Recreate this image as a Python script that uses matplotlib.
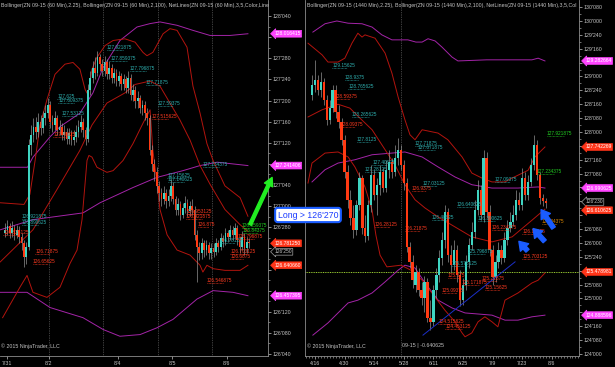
import matplotlib
matplotlib.use("Agg")
import matplotlib.pyplot as plt
from matplotlib.transforms import blended_transform_factory

plt.rcParams["font.family"] = ["Liberation Sans", "DejaVu Sans"]

UP = "#3fd4c2"
DOWN = "#ff3a12"
WICK = "#a0a0a0"
BAND_RED = "#b3140e"
BAND_PURPLE = "#a424a8"
GRID = "#7a7a7a"
TEXT = "#c4c4c4"
TEAL_TXT = "#2fb0b0"
RED_TXT = "#ff3a20"
GREEN_TXT = "#22d022"
ORANGE_TXT = "#e08a00"

# ---------------- left panel: ZN 09-15, 60 min ----------------
left_open = [126.84, 126.86, 126.88, 126.84, 126.87, 126.83, 126.86, 126.82, 126.78, 126.70,
             126.76, 127.36, 127.42, 127.47, 127.44, 127.50, 127.46, 127.52, 127.55, 127.60,
             127.50, 127.48, 127.52, 127.45, 127.47, 127.42, 127.44, 127.40, 127.43, 127.39,
             127.41, 127.44, 127.47, 127.50, 127.45, 127.40, 127.69, 127.76, 127.82, 127.79,
             127.88, 127.84, 127.80, 127.85, 127.78, 127.82, 127.76, 127.79, 127.74, 127.77,
             127.72, 127.75, 127.70, 127.76, 127.66, 127.69, 127.62, 127.64, 127.58, 127.60,
             127.55, 127.52, 127.33, 127.25, 127.20, 127.12, 127.08, 127.04, 127.08, 127.03,
             127.06, 127.12, 127.04, 126.98, 127.01, 126.95, 126.99, 127.02, 126.97, 127.00,
             126.98, 126.83, 126.76, 126.72, 126.78, 126.74, 126.77, 126.72, 126.75, 126.73,
             126.78, 126.76, 126.81, 126.79, 126.84, 126.82, 126.86, 126.83, 126.87, 126.80,
             126.76, 126.82, 126.75, 126.79]
left_close = [126.86, 126.88, 126.84, 126.87, 126.83, 126.86, 126.82, 126.78, 126.70, 126.76,
              127.36, 127.42, 127.47, 127.44, 127.50, 127.46, 127.52, 127.55, 127.60, 127.50,
              127.48, 127.52, 127.45, 127.47, 127.42, 127.44, 127.40, 127.43, 127.39, 127.41,
              127.44, 127.47, 127.50, 127.45, 127.40, 127.69, 127.76, 127.82, 127.79, 127.88,
              127.84, 127.80, 127.85, 127.78, 127.82, 127.76, 127.79, 127.74, 127.77, 127.72,
              127.75, 127.70, 127.76, 127.66, 127.69, 127.62, 127.64, 127.58, 127.60, 127.55,
              127.52, 127.33, 127.25, 127.20, 127.12, 127.08, 127.04, 127.08, 127.03, 127.06,
              127.12, 127.04, 126.98, 127.01, 126.95, 126.99, 127.02, 126.97, 127.00, 126.98,
              126.83, 126.76, 126.72, 126.78, 126.74, 126.77, 126.72, 126.75, 126.73, 126.78,
              126.76, 126.81, 126.79, 126.84, 126.82, 126.86, 126.83, 126.87, 126.80, 126.76,
              126.82, 126.75, 126.79, 126.78]
left_high = [126.90, 126.92, 126.90, 126.91, 126.89, 126.89, 126.88, 126.84, 126.80, 126.79,
             127.40, 127.48, 127.52, 127.53, 127.55, 127.54, 127.56, 127.60, 127.64, 127.62,
             127.54, 127.56, 127.54, 127.51, 127.49, 127.48, 127.46, 127.46, 127.45, 127.45,
             127.48, 127.51, 127.54, 127.52, 127.47, 127.72, 127.80, 127.86, 127.88, 127.92,
             127.90, 127.87, 127.89, 127.87, 127.86, 127.84, 127.82, 127.81, 127.80, 127.79,
             127.78, 127.77, 127.80, 127.78, 127.72, 127.71, 127.68, 127.66, 127.63, 127.62,
             127.58, 127.54, 127.36, 127.28, 127.23, 127.15, 127.11, 127.12, 127.10, 127.10,
             127.16, 127.14, 127.06, 127.05, 127.03, 127.02, 127.06, 127.04, 127.03, 127.04,
             127.00, 126.86, 126.79, 126.81, 126.80, 126.80, 126.79, 126.78, 126.78, 126.81,
             126.80, 126.84, 126.83, 126.87, 126.86, 126.89, 126.88, 126.90, 126.89, 126.82,
             126.85, 126.84, 126.82, 126.81]
left_low = [126.82, 126.83, 126.81, 126.82, 126.80, 126.81, 126.78, 126.74, 126.64, 126.66,
            126.74, 127.30, 127.38, 127.40, 127.41, 127.42, 127.43, 127.48, 127.52, 127.46,
            127.44, 127.45, 127.42, 127.42, 127.39, 127.39, 127.37, 127.37, 127.36, 127.36,
            127.38, 127.41, 127.44, 127.41, 127.36, 127.38, 127.66, 127.73, 127.75, 127.77,
            127.80, 127.77, 127.77, 127.75, 127.75, 127.73, 127.73, 127.71, 127.71, 127.69,
            127.69, 127.67, 127.67, 127.63, 127.62, 127.58, 127.58, 127.55, 127.54, 127.51,
            127.48, 127.30, 127.21, 127.15, 127.08, 127.03, 127.00, 127.01, 126.99, 127.00,
            127.03, 127.01, 126.95, 126.95, 126.92, 126.93, 126.96, 126.94, 126.94, 126.95,
            126.80, 126.55, 126.68, 126.69, 126.70, 126.71, 126.69, 126.69, 126.70, 126.71,
            126.73, 126.74, 126.76, 126.77, 126.79, 126.80, 126.80, 126.81, 126.77, 126.72,
            126.74, 126.71, 126.72, 126.75]

left_r1_x = [-2, 8, 10.5, 12.7, 14.8, 17.7, 21.1, 25.3, 28.7, 31.6, 33.8, 35, 36.7, 38.8, 42.2, 45.6,
             50.6, 54.9, 58.2, 59.9, 62.4, 66.7, 69.6, 72.6, 76.8, 79.3, 82.3, 85.2, 87.8, 92.8, 99.2, 102.5]
left_r1_y = [127.02, 127.01, 127.07, 127.27, 127.48, 127.63, 127.78, 127.84, 127.85, 127.81, 127.69,
             127.66, 127.81, 127.88, 127.95, 127.98, 127.99, 127.97, 127.91, 127.89, 127.91, 128.02,
             128.05, 128.04, 127.94, 127.71, 127.55, 127.37, 127.27, 127.12, 127.05, 126.94]
left_rm_x = [-2, 11.8, 22, 31.6, 36.7, 43, 50.6, 54.9, 61.2, 65.4, 69.6, 73.8, 78.1, 82.3, 86.5, 92.8, 99.2, 102.5]
left_rm_y = [126.67, 126.86, 127.10, 127.33, 127.48, 127.61, 127.67, 127.72, 127.74, 127.71, 127.61,
             127.51, 127.39, 127.24, 127.13, 126.98, 126.89, 126.85]
left_r2_x = [-1, 6.3, 9.3, 11.8, 17.7, 23.2, 27.4, 30.4, 32.5, 34.6, 35.4, 36.7, 38.8, 43, 45.6, 49.8,
             54, 58.2, 61.2, 62.4, 64.1, 65.4, 68.4, 72.6, 78.1, 82.3, 83.5, 85.2, 87.8, 92.8, 99.2, 102.5]
left_r2_y = [126.34, 126.52, 126.59, 126.49, 126.46, 126.52, 126.66, 126.74, 126.92, 127.27, 127.30,
             127.29, 127.23, 127.20, 127.21, 127.27, 127.37, 127.49, 127.57, 127.33, 127.14, 126.98,
             126.83, 126.74, 126.71, 126.65, 126.61, 126.65, 126.63, 126.62, 126.62, 126.65]
left_p1_x = [-2, 9.5, 11.8, 19, 23.2, 31.6, 37.1, 41.4, 48.5, 55.7, 61.2, 65.4, 72.6, 79.3, 86.5, 95, 102.5]
left_p1_y = [127.23, 127.23, 127.29, 127.41, 127.47, 127.55, 127.67, 127.82, 127.98, 128.06, 128.08,
             128.09, 128.07, 128.04, 128.01, 128.01, 128.02]
left_p2_x = [-2, 11.8, 32.9, 40.1, 54, 64.1, 75.1, 82.3, 89.5, 102.5]
left_p2_y = [126.86, 126.92, 126.96, 127.02, 127.11, 127.17, 127.21, 127.24, 127.26, 127.24]
left_p3_x = [-2, 9.3, 19, 32.9, 41.4, 48.5, 57, 64.1, 70.9, 81, 87.8, 96.2, 102.5]
left_p3_y = [126.49, 126.49, 126.40, 126.34, 126.27, 126.23, 126.24, 126.28, 126.33, 126.45, 126.50,
             126.49, 126.47]

left_ticks = [126.125, 126.25, 126.375, 126.5, 126.625, 126.75, 126.875, 127.0, 127.125,
              127.25, 127.375, 127.5, 127.625, 127.75, 127.875, 128.0, 128.125]
left_dates = ["7/31", "8/2", "8/4", "8/5", "8/6"]
left_date_pos = [1, 18.5, 47.5, 70.5, 93.5]
left_sessions = [18.5, 41.5, 64.5, 87.5]

left_labels = [("127.921875", 43, TEAL_TXT), ("127.859375", 44.5, TEAL_TXT),
               ("127.796875", 52.7, TEAL_TXT), ("127.71875", 59.5, TEAL_TXT),
               ("127.59375", 64.5, TEAL_TXT), ("127.515625", 62, RED_TXT),
               ("127.625", 22, TEAL_TXT), ("127.609375", 22.4, TEAL_TXT),
               ("127.53125", 24, TEAL_TXT), ("127.40625", 20.3, RED_TXT),
               ("126.921875", 7.2, TEAL_TXT), ("126.890625", 7.2, TEAL_TXT),
               ("126.828125", -0.8, RED_TXT), ("126.71875", 12.7, RED_TXT),
               ("126.65625", 11.8, RED_TXT), ("127.234375", 83.5, TEAL_TXT),
               ("127.15625", 68.4, TEAL_TXT), ("127.140625", 68.8, TEAL_TXT),
               ("126.953125", 76.8, RED_TXT), ("126.921875", 76.4, RED_TXT),
               ("126.875", 81.4, RED_TXT), ("126.796875", 98.3, RED_TXT),
               ("126.78125", 90.7, TEAL_TXT), ("126.859375", 100, GREEN_TXT),
               ("126.84375", 100.4, GREEN_TXT), ("126.703125", 95, RED_TXT),
               ("126.6875", 95, RED_TXT), ("126.546875", 85.2, RED_TXT)]

# drawn objects on the 60 min chart
left_arrow_x = [103.4, 112.7]
left_arrow_y = [126.89, 127.17]

# ---------------- right panel: ZN 09-15, daily ----------------
right_open = [128.67, 128.85, 128.94, 128.76, 128.90, 128.58, 128.22, 128.43, 128.76, 128.36,
              128.18, 127.86, 127.28, 126.77, 126.45, 126.23, 126.69, 127.17, 126.27, 126.13,
              126.69, 127.23, 126.87, 127.05, 127.28, 126.99, 127.31, 127.46, 127.28, 127.53,
              127.68, 127.41, 127.08, 125.93, 125.66, 125.24, 125.48, 125.15, 125.01, 125.30,
              124.65, 124.58, 125.15, 125.42, 125.73, 126.05, 126.56, 125.78, 125.60, 125.87,
              125.42, 124.97, 125.24, 125.66, 125.96, 126.20, 126.59, 126.95, 126.50, 127.53,
              126.56, 125.87, 125.39, 125.66, 125.87, 125.73, 126.05, 126.27, 126.38, 126.50,
              126.77, 126.68, 127.17, 126.87, 127.10, 127.41, 127.77, 127.23, 126.81, 126.76]
right_close = [128.85, 128.94, 128.76, 128.90, 128.58, 128.22, 128.43, 128.76, 128.36, 128.18,
               127.86, 127.28, 126.77, 126.45, 126.23, 126.69, 127.17, 126.27, 126.13, 126.69,
               127.23, 126.87, 127.05, 127.28, 126.99, 127.31, 127.46, 127.28, 127.53, 127.68,
               127.41, 127.08, 125.93, 125.66, 125.33, 125.48, 125.15, 125.01, 125.30, 124.65,
               124.58, 125.15, 125.42, 125.73, 126.05, 126.56, 125.78, 125.60, 125.87, 125.42,
               124.97, 125.24, 125.66, 125.96, 126.20, 126.59, 126.95, 126.50, 127.53, 126.56,
               125.87, 125.39, 125.66, 125.87, 125.73, 126.05, 126.27, 126.38, 126.50, 126.77,
               126.68, 127.17, 126.87, 127.10, 127.41, 127.77, 127.23, 126.81, 126.76, 126.72]
right_high = [129.03, 129.30, 129.03, 129.08, 128.97, 128.67, 128.58, 128.85, 128.85, 128.49,
              128.25, 127.95, 127.40, 126.96, 126.69, 126.78, 127.28, 127.22, 126.50, 126.78,
              127.40, 127.31, 127.17, 127.40, 127.35, 127.50, 127.68, 127.53, 127.77, 127.89,
              127.77, 127.50, 127.17, 126.02, 125.78, 125.60, 125.55, 125.30, 125.41, 125.37,
              124.97, 125.24, 125.55, 125.87, 126.20, 126.69, 126.63, 125.96, 126.05, 125.96,
              125.51, 125.37, 125.78, 126.09, 126.38, 126.78, 127.14, 127.05, 127.68, 127.64,
              126.69, 125.96, 125.78, 126.02, 125.96, 126.20, 126.41, 126.56, 126.69, 126.96,
              126.92, 127.35, 127.28, 127.23, 127.53, 127.95, 127.86, 127.28, 126.88, 126.81]
right_low = [128.58, 128.72, 128.67, 128.63, 128.49, 128.13, 128.14, 128.36, 128.25, 128.07,
             127.77, 127.17, 126.63, 126.32, 126.09, 126.14, 126.59, 126.16, 126.02, 126.05,
             126.56, 126.77, 126.50, 126.87, 126.92, 126.92, 127.17, 127.17, 127.21, 127.41,
             127.32, 126.96, 125.84, 125.55, 125.19, 125.12, 125.05, 124.88, 124.76, 124.58,
             124.43, 124.50, 125.01, 125.30, 125.60, 125.91, 125.66, 125.48, 125.51, 125.30,
             124.86, 124.88, 125.15, 125.55, 125.87, 126.09, 126.50, 126.41, 126.38, 126.45,
             125.77, 125.24, 125.30, 125.55, 125.62, 125.66, 125.96, 126.20, 126.31, 126.41,
             126.59, 126.59, 126.77, 126.77, 127.03, 127.32, 127.14, 126.70, 126.67, 126.63]

right_r1_x = [-1.35, 3.4, 5.4, 8.8, 11.1, 13.5, 15.5, 16.9, 17.9, 21.3, 24.7, 27, 29.1, 31.4, 33.1,
              34.8, 37.2, 42.6, 45.9, 50.7, 54, 57.4, 60.8, 65.2, 67.6, 73, 75.3, 78.7]
right_r1_y = [129.60, 129.39, 129.26, 129.26, 129.33, 129.60, 129.78, 129.71, 129.75, 129.69, 129.42,
              129.06, 128.63, 128.22, 127.95, 127.86, 128.04, 127.98, 127.86, 127.55, 127.26, 127.17,
              127.10, 127.10, 127.17, 127.31, 127.55, 127.73]
right_rm_x = [-1.35, 3.4, 8.8, 12.8, 16.2, 20.3, 24.7, 28, 31.4, 34.8, 38.2, 42.6, 48.3, 54, 60.8,
              67.6, 74.3, 78.7]
right_rm_y = [128.27, 128.40, 128.50, 128.43, 128.25, 128.04, 127.68, 127.41, 127.05, 126.78, 126.63,
              126.47, 126.29, 126.11, 126.02, 126.11, 126.41, 126.61]
right_r2_x = [-1.35, 0, 4.4, 8.8, 12.2, 14.5, 17.9, 20.3, 21.6, 23, 25.3, 30.1, 33.4, 37.2, 40.5,
              44.9, 48.3, 50.7, 51.7, 54, 56.1, 58.4, 60.8, 62.8, 65.2, 69.6, 74.3, 76.4, 78.7]
right_r2_y = [127.08, 127.44, 127.62, 127.64, 127.55, 127.37, 127.01, 126.59, 126.14, 125.78, 125.57,
              125.60, 125.51, 125.33, 125.10, 124.79, 124.58, 124.38, 124.31, 124.38, 124.58, 124.67,
              124.58, 124.49, 124.97, 125.10, 125.28, 125.33, 125.46]
right_p1_x = [0.3, 4.4, 8.4, 12.2, 16.9, 20.3, 23.6, 27, 32.4, 35.1, 37.2, 39.2, 41.6, 43.9, 47.3,
              49.3, 59, 65.2, 74.3, 76.4, 78.7]
right_p1_y = [129.80, 129.95, 130.00, 129.96, 129.95, 129.89, 129.75, 129.66, 129.66, 129.62, 129.62,
              129.68, 129.64, 129.53, 129.35, 129.28, 129.30, 129.30, 129.30, 129.33, 129.28]
right_p2_x = [0, 4.4, 8.8, 14.5, 20.3, 27, 31.4, 37.2, 42.6, 48.3, 54, 60.8, 69.6, 76.4, 78.7]
right_p2_y = [127.10, 127.32, 127.44, 127.50, 127.59, 127.62, 127.64, 127.55, 127.37, 127.19, 127.05,
              126.99, 126.99, 127.01, 126.99]
right_p3_x = [0.3, 5.4, 8.8, 12.2, 15.5, 20.3, 24.7, 29.1, 31.4, 34.8, 38.2, 42.6, 47.3, 51.7, 60.8,
              65.2, 69.6, 74.3, 78.7]
right_p3_y = [124.34, 124.56, 124.74, 124.92, 124.97, 125.10, 125.30, 125.51, 125.60, 125.55, 125.28,
              124.97, 124.83, 124.74, 124.70, 124.61, 124.61, 124.67, 124.70]

right_ticks = [124.0, 124.25, 124.5, 124.75, 125.0, 125.25, 125.5, 125.75, 126.0, 126.25, 126.5,
               126.75, 127.0, 127.25, 127.5, 127.75, 128.0, 128.25, 128.5, 128.75, 129.0, 129.25,
               129.5, 129.75, 130.0, 130.25]
right_dates = ["4/16", "4/30", "5/14", "5/28", "6/11", "6/25", "7/9", "7/23", "8/6"]
right_date_pos = [1, 11, 21, 31, 41, 51, 61, 71, 81]
right_rollover = 30.2
right_hline = 125.478981

right_labels = [("129.15625", 6.8, TEAL_TXT), ("128.9375", 11.1, TEAL_TXT),
                ("128.765625", 12.2, TEAL_TXT), ("128.59375", 7.8, RED_TXT),
                ("128.265625", 13.5, TEAL_TXT), ("128.09375", 9.5, RED_TXT),
                ("127.8125", 15.2, TEAL_TXT), ("127.71875", 34.8, TEAL_TXT),
                ("127.671875", 35.8, TEAL_TXT), ("127.40625", 20.3, TEAL_TXT),
                ("127.28125", 17.9, TEAL_TXT), ("127.09375", 61.8, TEAL_TXT),
                ("127.03125", 37.2, TEAL_TXT), ("126.9375", 33.8, RED_TXT),
                ("126.640625", 49, TEAL_TXT), ("126.40625", 40.5, TEAL_TXT),
                ("126.390625", 56.1, TEAL_TXT), ("126.28125", 21.3, RED_TXT),
                ("126.21875", 31.4, RED_TXT), ("126.234375", 60.8, RED_TXT),
                ("126.15625", 71, RED_TXT), ("127.921875", 79.4, GREEN_TXT),
                ("127.234375", 76, GREEN_TXT), ("126.34375", 77.7, ORANGE_TXT),
                ("125.796875", 52.7, TEAL_TXT), ("125.703125", 71, RED_TXT),
                ("125.578125", 47.3, TEAL_TXT), ("125.375", 45.9, RED_TXT),
                ("125.171875", 50.7, RED_TXT), ("125.09375", 43.9, RED_TXT),
                ("125.21875", 57.4, RED_TXT), ("125.15625", 58.4, RED_TXT),
                ("124.515625", 42.6, RED_TXT), ("124.453125", 45, RED_TXT)]

# drawn objects on the daily chart
right_trend_x = [37.5, 68.6]
right_trend_y = [124.34, 125.66]
right_arrows = [((81.6, 126.27), (77.4, 126.60)),
                ((78.6, 126.03), (74.7, 126.26)),
                ((72.8, 125.86), (69.9, 126.03))]


def price32(p):
    whole = int(p)
    frac = round((p - whole) * 320)
    return f"{whole}'{frac:03d}"


def draw_candles(ax, o, h, l, c, width):
    for i in range(len(c)):
        color = UP if c[i] >= o[i] else DOWN
        ax.vlines(i, l[i], h[i], color=WICK, lw=0.45, zorder=3)
        body = max(abs(c[i] - o[i]), 0.008)
        ax.bar(i, body, bottom=min(o[i], c[i]), width=width, color=color, lw=0, zorder=4)


def draw_net_labels(ax, labels, per_char, line_h):
    # labels are stacked from the lowest price up; one that would collide with a label
    # already placed below it is lifted just above it
    placed = []
    for text, x, color in sorted(labels, key=lambda t: float(t[0])):
        w = len(text) * per_char
        yl = float(text)
        for px, pw, py in placed:
            if x < px + pw and px < x + w and yl - py < line_h:
                yl = py + line_h
        placed.append((x, w, yl))
        ax.text(x, yl, text, color=color, fontsize=3.4, ha="left", va="bottom", zorder=6)
        ax.plot([x, x + w * 0.6], [yl, yl], color=color, lw=0.5, ls=(0, (1, 1)), zorder=6)


def price_tag(ax, p, text, face, fg, edge=None):
    tr = blended_transform_factory(ax.transAxes, ax.transData)
    ax.annotate(text, xy=(1, p), xycoords=tr, xytext=(4.5, 0), textcoords="offset points",
                fontsize=3.6, color=fg, ha="left", va="center", annotation_clip=False, zorder=12,
                bbox=dict(boxstyle="larrow,pad=0.18", fc=face, ec=edge or face, lw=0.5))


def hide_covered_labels(ax, ticks, tag_prices, gap):
    # tick labels that sit under a price tag are hidden, as on the platform
    for tick, t in zip(ax.yaxis.get_major_ticks(), ticks):
        if any(abs(t - p) < gap for p in tag_prices):
            tick.label2.set_visible(False)


def style_axes(ax, ticks, dates, date_pos):
    ax.set_facecolor("black")
    ax.yaxis.tick_right()
    ax.set_yticks(ticks)
    ax.set_yticklabels([price32(t) for t in ticks])
    ax.set_yticks([(a + b) / 2 for a, b in zip(ticks[:-1], ticks[1:])], minor=True)
    ax.set_xticks(date_pos)
    ax.set_xticklabels(dates)
    ax.tick_params(axis="both", colors=TEXT, labelsize=3.8, length=2, width=0.5, pad=1.5)
    ax.tick_params(axis="y", which="minor", colors=TEXT, length=1.2, width=0.4)
    for side in ["top", "left"]:
        ax.spines[side].set_visible(False)
    for side in ["right", "bottom"]:
        ax.spines[side].set_color("#8c8c8c")
        ax.spines[side].set_linewidth(0.6)


fig = plt.figure(figsize=(6.15, 3.67), dpi=100, facecolor="black")
axL = fig.add_axes([0, 11 / 367, 268 / 615, 356 / 367])
axR = fig.add_axes([305 / 615, 11 / 367, 274 / 615, 356 / 367])

# ---- left
style_axes(axL, left_ticks, left_dates, left_date_pos)
axL.set_xlim(-2.11, 110.97)
axL.set_ylim(126.1132, 128.2197)
for s in left_sessions:
    axL.axvline(s, color=GRID, lw=0.5, ls=(0, (1, 1.5)), zorder=1)
for xs, ys, col in [(left_p1_x, left_p1_y, BAND_PURPLE), (left_p2_x, left_p2_y, BAND_PURPLE),
                    (left_p3_x, left_p3_y, BAND_PURPLE), (left_r1_x, left_r1_y, BAND_RED),
                    (left_rm_x, left_rm_y, BAND_RED), (left_r2_x, left_r2_y, BAND_RED)]:
    axL.plot(xs, ys, color=col, lw=0.7, zorder=2)
draw_candles(axL, left_open, left_high, left_low, left_close, 0.72)
draw_net_labels(axL, left_labels, 1.15, 0.027)
axL.annotate("", xy=(left_arrow_x[1], left_arrow_y[1]), xytext=(left_arrow_x[0], left_arrow_y[0]),
             arrowprops=dict(facecolor="#22ee22", edgecolor="#22ee22", width=2.2, headwidth=6.5,
                             headlength=6), annotation_clip=False, zorder=15)
left_tags = [(left_p1_y[-1], "128.016415", "#ff44ff", "white", None),
             (left_p2_y[-1], "127.241406", "#ff44ff", "white", None),
             (left_close[-1], "126.781250", "#ff3418", "white", None),
             (left_close[-1] - 0.05, price32(left_close[-1]), "black", TEXT, "#a0a0a0"),
             (left_r2_y[-1], "126.640660", "#ff3418", "white", None),
             (left_p3_y[-1], "126.457395", "#ff44ff", "white", None)]
for p, text, face, fg, edge in left_tags:
    price_tag(axL, p, text, face, fg, edge)
hide_covered_labels(axL, left_ticks, [t[0] for t in left_tags], 0.045)
axL.text(0.004, 0.028, "© 2015 NinjaTrader, LLC", transform=axL.transAxes, fontsize=3.8,
         color=TEXT, va="center")

# ---- right
style_axes(axR, right_ticks, right_dates, right_date_pos)
axR.set_xticks(range(-2, 91), minor=True)
axR.tick_params(axis="x", which="minor", colors=TEXT, length=1.2, width=0.4)
axR.spines["left"].set_visible(True)
axR.spines["left"].set_color("#8c8c8c")
axR.spines["left"].set_linewidth(0.6)
axR.set_xlim(-2.36, 90.2)
axR.set_ylim(123.964, 130.378)
axR.axvline(right_rollover, color=GRID, lw=0.5, ls=(0, (1, 1.5)), zorder=1)
axR.axhline(right_hline, color="#9acd32", lw=0.7, ls=(0, (1, 0.8)), zorder=2)
for xs, ys, col in [(right_p1_x, right_p1_y, BAND_PURPLE), (right_p2_x, right_p2_y, BAND_PURPLE),
                    (right_p3_x, right_p3_y, BAND_PURPLE), (right_r1_x, right_r1_y, BAND_RED),
                    (right_rm_x, right_rm_y, BAND_RED), (right_r2_x, right_r2_y, BAND_RED)]:
    axR.plot(xs, ys, color=col, lw=0.7, zorder=2)
axR.plot(right_trend_x, right_trend_y, color="#1c2fc8", lw=0.7, zorder=5)
draw_candles(axR, right_open, right_high, right_low, right_close, 0.82)
draw_net_labels(axR, right_labels, 0.95, 0.081)
for tail, head in right_arrows:
    axR.annotate("", xy=head, xytext=tail,
                 arrowprops=dict(facecolor="#1a5cff", edgecolor="#1a5cff", width=3,
                                 headwidth=8, headlength=6), zorder=15)
right_tags = [(right_p1_y[-1], "129.282664", "#ff44ff", "white", None),
              (right_r1_y[-1], "127.742269", "#ff3418", "white", None),
              (right_p2_y[-1], "126.990625", "#ff44ff", "white", None),
              (right_close[-1] + 0.02, price32(right_close[-1]), "black", TEXT, "#a0a0a0"),
              (right_rm_y[-1] - 0.02, "126.610625", "#ff3418", "white", None),
              (right_hline, "125.478981", "#ff3418", "white", None),
              (right_p3_y[-1], "124.888596", "#ff44ff", "white", None)]
for p, text, face, fg, edge in right_tags:
    price_tag(axR, p, text, face, fg, edge)
hide_covered_labels(axR, right_ticks, [t[0] for t in right_tags], 0.14)
axR.text(0.007, 0.028, "© 2015 NinjaTrader, LLC", transform=axR.transAxes, fontsize=3.8,
         color=TEXT, va="center")
tr = blended_transform_factory(axR.transData, axR.transAxes)
axR.text(right_rollover + 0.3, 0.03, "09-15 | -0.640625", transform=tr, fontsize=3.8,
         color=TEXT, va="center")

# ---- titles and annotation box
fig.text(1 / 615, 1 - 5 / 367,
         "Bollinger(ZN 09-15 (60 Min),2.25), Bollinger(ZN 09-15 (60 Min),2,100), "
         "NetLines(ZN 09-15 (60 Min),3,5,Color,Line",
         fontsize=3.75, color=TEXT, va="center")
fig.text(307 / 615, 1 - 5 / 367,
         "Bollinger(ZN 09-15 (1440 Min),2.25), Bollinger(ZN 09-15 (1440 Min),2,100), "
         "NetLines(ZN 09-15 (1440 Min),3,5,Col",
         fontsize=3.75, color=TEXT, va="center")
fig.text(308 / 615, 1 - 215 / 367, "Long > 126'270", fontsize=6.3, color="#1a3cff",
         ha="center", va="center", zorder=20,
         bbox=dict(boxstyle="round,pad=0.3", fc="white", ec="#1a5cff", lw=1.5))

fig.savefig("out.png", dpi=100, facecolor="black")
